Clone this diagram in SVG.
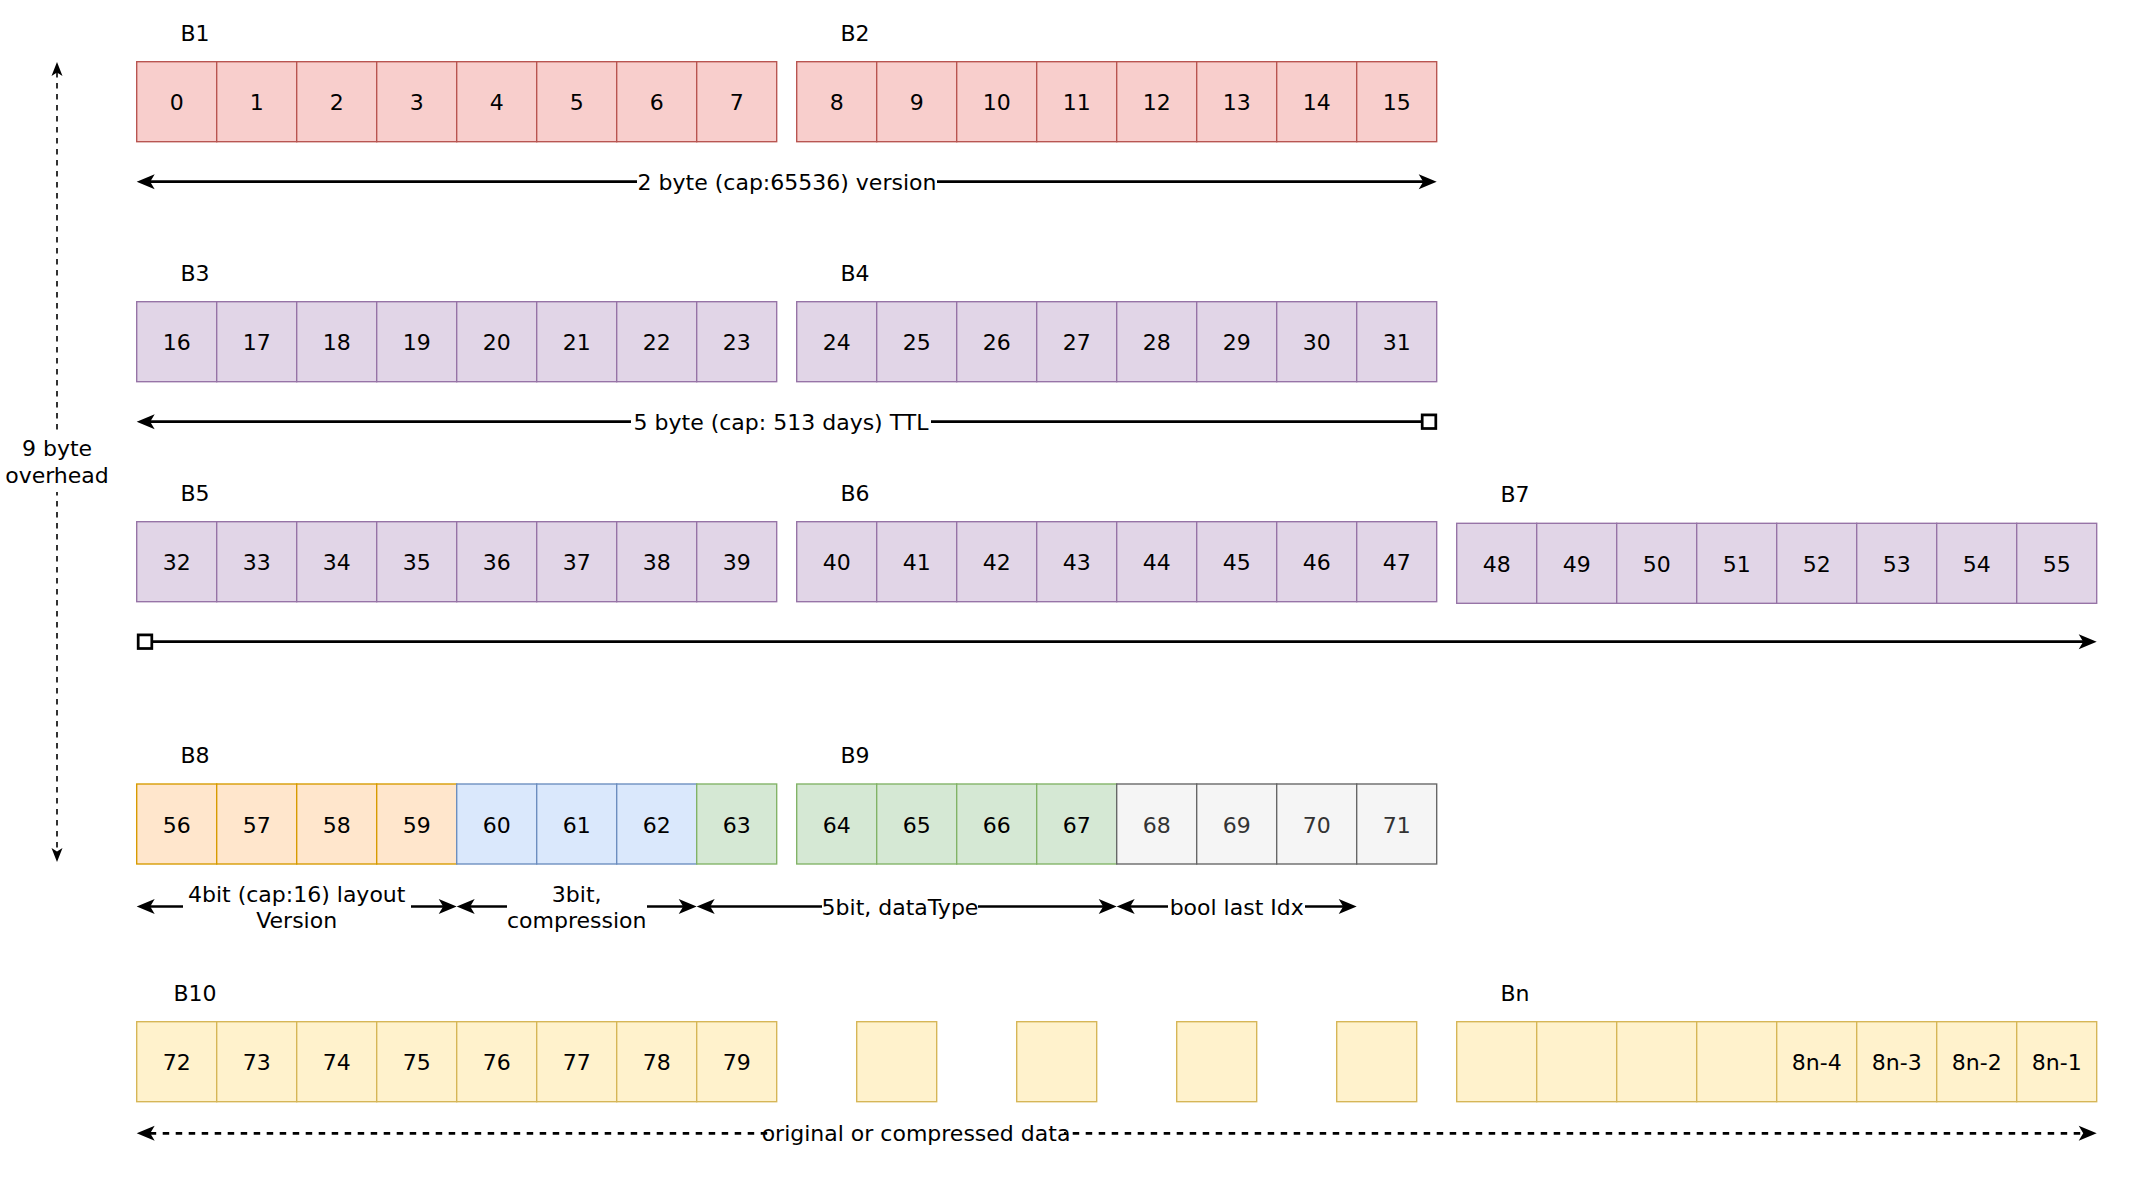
<svg xmlns="http://www.w3.org/2000/svg" width="2148" height="1200" viewBox="0 0 2148 1200">
  <style>
    text { font-family: "DejaVu Sans", Verdana, sans-serif; font-size: 22px; fill: #000; text-anchor: middle; }
    .cell rect { stroke-width: 1.37; }
    .red rect { fill: #f8cecc; stroke: #b85450; }
    .purple rect { fill: #e1d5e7; stroke: #9673a6; }
    rect.orange { fill: #ffe6cc; stroke: #d79b00; }
    rect.blue { fill: #dae8fc; stroke: #6c8ebf; }
    rect.green { fill: #d5e8d4; stroke: #82b366; }
    rect.gray { fill: #f5f5f5; stroke: #666666; }
    text.gray { fill: #333333; }
    .yellow rect, rect.yellow { fill: #fff2cc; stroke: #d6b656; stroke-width: 1.37; }
    .conn { fill: none; stroke: #000; stroke-width: 2.74; }
    .dash { stroke-dasharray: 6.5 6.5; }
    .thin { stroke-width: 1.6; stroke-dasharray: 5.5 5.5; }
    .bg { fill: #fff; }
  </style>
  <defs>
    <marker id="arrow" viewBox="-10 -10 30 20" refX="0" refY="0" markerWidth="30" markerHeight="20" markerUnits="userSpaceOnUse" orient="auto-start-reverse">
      <path d="M13,0 L-5,-7.5 L-0.5,0 L-5,7.5 Z" fill="#000"/>
    </marker>
    <marker id="arrowSm" viewBox="-10 -10 30 20" refX="0" refY="0" markerWidth="30" markerHeight="20" markerUnits="userSpaceOnUse" orient="auto-start-reverse">
      <path d="M10,0 L-4,-5.5 L-0.5,0 L-4,5.5 Z" fill="#000"/>
    </marker>
    <marker id="square" viewBox="-10 -10 20 20" refX="0" refY="0" markerWidth="20" markerHeight="20" markerUnits="userSpaceOnUse" orient="auto">
      <rect x="-6.8" y="-6.8" width="13.6" height="13.6" fill="#fff" stroke="#000" stroke-width="2.74"/>
    </marker>
  </defs>

  <rect width="2148" height="1200" fill="#fff"/>

  <!-- connectors -->
  <g id="connectors">
    <!-- 9 byte overhead -->
    <path class="conn thin" d="M57,72 V852" marker-start="url(#arrowSm)" marker-end="url(#arrowSm)"/>
    <rect class="bg" x="5" y="432" width="104" height="60"/>
    <text x="57" y="455.5">9 byte</text>
    <text x="57" y="483">overhead</text>

    <!-- version -->
    <path class="conn" d="M149.7,181.7 H1423.7" marker-start="url(#arrow)" marker-end="url(#arrow)"/>
    <rect class="bg" x="637" y="168" width="300" height="27"/>
    <text x="787" y="189.7">2 byte (cap:65536) version</text>

    <!-- TTL -->
    <path class="conn" d="M149.7,421.7 H1429" marker-start="url(#arrow)" marker-end="url(#square)"/>
    <rect class="bg" x="631" y="408" width="300" height="27"/>
    <text x="781" y="429.7">5 byte (cap: 513 days) TTL</text>

    <path class="conn" d="M145,641.7 H2083.7" marker-start="url(#square)" marker-end="url(#arrow)"/>

    <!-- B8 / B9 fields -->
    <path class="conn" d="M149.7,906.5 H443.7" marker-start="url(#arrow)" marker-end="url(#arrow)"/>
    <rect class="bg" x="183" y="880" width="228" height="54"/>
    <text x="296.7" y="902">4bit (cap:16) layout</text>
    <text x="296.7" y="928">Version</text>

    <path class="conn" d="M469.7,906.5 H683.7" marker-start="url(#arrow)" marker-end="url(#arrow)"/>
    <rect class="bg" x="507" y="880" width="140" height="54"/>
    <text x="576.7" y="902">3bit,</text>
    <text x="576.7" y="928">compression</text>

    <path class="conn" d="M709.7,906.5 H1103.7" marker-start="url(#arrow)" marker-end="url(#arrow)"/>
    <rect class="bg" x="822" y="893" width="156" height="27"/>
    <text x="900" y="915">5bit, dataType</text>

    <path class="conn" d="M1129.7,906.5 H1343.7" marker-start="url(#arrow)" marker-end="url(#arrow)"/>
    <rect class="bg" x="1168" y="893" width="137" height="27"/>
    <text x="1236.7" y="915">bool last Idx</text>

    <!-- payload -->
    <path class="conn dash" d="M149.7,1133.3 H2083.7" marker-start="url(#arrow)" marker-end="url(#arrow)"/>
    <rect class="bg" x="768" y="1120" width="296" height="27"/>
    <text x="916" y="1141.3">original or compressed data</text>
  </g>

  <!-- B1 -->
  <g id="B1" class="cell red" transform="translate(136.7,61.7)">
    <text x="58.3" y="-21">B1</text>
    <rect x="0" y="0" width="80" height="80"/><rect x="80" y="0" width="80" height="80"/><rect x="160" y="0" width="80" height="80"/><rect x="240" y="0" width="80" height="80"/>
    <rect x="320" y="0" width="80" height="80"/><rect x="400" y="0" width="80" height="80"/><rect x="480" y="0" width="80" height="80"/><rect x="560" y="0" width="80" height="80"/>
    <text x="40" y="48.5">0</text><text x="120" y="48.5">1</text><text x="200" y="48.5">2</text><text x="280" y="48.5">3</text>
    <text x="360" y="48.5">4</text><text x="440" y="48.5">5</text><text x="520" y="48.5">6</text><text x="600" y="48.5">7</text>
  </g>

  <!-- B2 -->
  <g id="B2" class="cell red" transform="translate(796.7,61.7)">
    <text x="58.3" y="-21">B2</text>
    <rect x="0" y="0" width="80" height="80"/><rect x="80" y="0" width="80" height="80"/><rect x="160" y="0" width="80" height="80"/><rect x="240" y="0" width="80" height="80"/>
    <rect x="320" y="0" width="80" height="80"/><rect x="400" y="0" width="80" height="80"/><rect x="480" y="0" width="80" height="80"/><rect x="560" y="0" width="80" height="80"/>
    <text x="40" y="48.5">8</text><text x="120" y="48.5">9</text><text x="200" y="48.5">10</text><text x="280" y="48.5">11</text>
    <text x="360" y="48.5">12</text><text x="440" y="48.5">13</text><text x="520" y="48.5">14</text><text x="600" y="48.5">15</text>
  </g>

  <!-- B3 -->
  <g id="B3" class="cell purple" transform="translate(136.7,301.7)">
    <text x="58.3" y="-21">B3</text>
    <rect x="0" y="0" width="80" height="80"/><rect x="80" y="0" width="80" height="80"/><rect x="160" y="0" width="80" height="80"/><rect x="240" y="0" width="80" height="80"/>
    <rect x="320" y="0" width="80" height="80"/><rect x="400" y="0" width="80" height="80"/><rect x="480" y="0" width="80" height="80"/><rect x="560" y="0" width="80" height="80"/>
    <text x="40" y="48.5">16</text><text x="120" y="48.5">17</text><text x="200" y="48.5">18</text><text x="280" y="48.5">19</text>
    <text x="360" y="48.5">20</text><text x="440" y="48.5">21</text><text x="520" y="48.5">22</text><text x="600" y="48.5">23</text>
  </g>

  <!-- B4 -->
  <g id="B4" class="cell purple" transform="translate(796.7,301.7)">
    <text x="58.3" y="-21">B4</text>
    <rect x="0" y="0" width="80" height="80"/><rect x="80" y="0" width="80" height="80"/><rect x="160" y="0" width="80" height="80"/><rect x="240" y="0" width="80" height="80"/>
    <rect x="320" y="0" width="80" height="80"/><rect x="400" y="0" width="80" height="80"/><rect x="480" y="0" width="80" height="80"/><rect x="560" y="0" width="80" height="80"/>
    <text x="40" y="48.5">24</text><text x="120" y="48.5">25</text><text x="200" y="48.5">26</text><text x="280" y="48.5">27</text>
    <text x="360" y="48.5">28</text><text x="440" y="48.5">29</text><text x="520" y="48.5">30</text><text x="600" y="48.5">31</text>
  </g>

  <!-- B5 -->
  <g id="B5" class="cell purple" transform="translate(136.7,521.7)">
    <text x="58.3" y="-21">B5</text>
    <rect x="0" y="0" width="80" height="80"/><rect x="80" y="0" width="80" height="80"/><rect x="160" y="0" width="80" height="80"/><rect x="240" y="0" width="80" height="80"/>
    <rect x="320" y="0" width="80" height="80"/><rect x="400" y="0" width="80" height="80"/><rect x="480" y="0" width="80" height="80"/><rect x="560" y="0" width="80" height="80"/>
    <text x="40" y="48.5">32</text><text x="120" y="48.5">33</text><text x="200" y="48.5">34</text><text x="280" y="48.5">35</text>
    <text x="360" y="48.5">36</text><text x="440" y="48.5">37</text><text x="520" y="48.5">38</text><text x="600" y="48.5">39</text>
  </g>

  <!-- B6 -->
  <g id="B6" class="cell purple" transform="translate(796.7,521.7)">
    <text x="58.3" y="-21">B6</text>
    <rect x="0" y="0" width="80" height="80"/><rect x="80" y="0" width="80" height="80"/><rect x="160" y="0" width="80" height="80"/><rect x="240" y="0" width="80" height="80"/>
    <rect x="320" y="0" width="80" height="80"/><rect x="400" y="0" width="80" height="80"/><rect x="480" y="0" width="80" height="80"/><rect x="560" y="0" width="80" height="80"/>
    <text x="40" y="48.5">40</text><text x="120" y="48.5">41</text><text x="200" y="48.5">42</text><text x="280" y="48.5">43</text>
    <text x="360" y="48.5">44</text><text x="440" y="48.5">45</text><text x="520" y="48.5">46</text><text x="600" y="48.5">47</text>
  </g>

  <!-- B7 -->
  <g id="B7" class="cell purple" transform="translate(1456.7,523.3)">
    <text x="58.3" y="-21">B7</text>
    <rect x="0" y="0" width="80" height="80"/><rect x="80" y="0" width="80" height="80"/><rect x="160" y="0" width="80" height="80"/><rect x="240" y="0" width="80" height="80"/>
    <rect x="320" y="0" width="80" height="80"/><rect x="400" y="0" width="80" height="80"/><rect x="480" y="0" width="80" height="80"/><rect x="560" y="0" width="80" height="80"/>
    <text x="40" y="48.5">48</text><text x="120" y="48.5">49</text><text x="200" y="48.5">50</text><text x="280" y="48.5">51</text>
    <text x="360" y="48.5">52</text><text x="440" y="48.5">53</text><text x="520" y="48.5">54</text><text x="600" y="48.5">55</text>
  </g>

  <!-- B8: layout version / compression / data type (high bit) -->
  <g id="B8" class="cell" transform="translate(136.7,784)">
    <text x="58.3" y="-21">B8</text>
    <rect class="orange" x="0" y="0" width="80" height="80"/><rect class="orange" x="80" y="0" width="80" height="80"/><rect class="orange" x="160" y="0" width="80" height="80"/><rect class="orange" x="240" y="0" width="80" height="80"/>
    <rect class="blue" x="320" y="0" width="80" height="80"/><rect class="blue" x="400" y="0" width="80" height="80"/><rect class="blue" x="480" y="0" width="80" height="80"/>
    <rect class="green" x="560" y="0" width="80" height="80"/>
    <text x="40" y="48.5">56</text><text x="120" y="48.5">57</text><text x="200" y="48.5">58</text><text x="280" y="48.5">59</text>
    <text x="360" y="48.5">60</text><text x="440" y="48.5">61</text><text x="520" y="48.5">62</text><text x="600" y="48.5">63</text>
  </g>

  <!-- B9: data type / flags -->
  <g id="B9" class="cell" transform="translate(796.7,784)">
    <text x="58.3" y="-21">B9</text>
    <rect class="green" x="0" y="0" width="80" height="80"/><rect class="green" x="80" y="0" width="80" height="80"/><rect class="green" x="160" y="0" width="80" height="80"/><rect class="green" x="240" y="0" width="80" height="80"/>
    <rect class="gray" x="320" y="0" width="80" height="80"/><rect class="gray" x="400" y="0" width="80" height="80"/><rect class="gray" x="480" y="0" width="80" height="80"/><rect class="gray" x="560" y="0" width="80" height="80"/>
    <text x="40" y="48.5">64</text><text x="120" y="48.5">65</text><text x="200" y="48.5">66</text><text x="280" y="48.5">67</text>
    <text class="gray" x="360" y="48.5">68</text><text class="gray" x="440" y="48.5">69</text><text class="gray" x="520" y="48.5">70</text><text class="gray" x="600" y="48.5">71</text>
  </g>

  <!-- B10 -->
  <g id="B10" class="cell yellow" transform="translate(136.7,1021.7)">
    <text x="58.3" y="-21">B10</text>
    <rect x="0" y="0" width="80" height="80"/><rect x="80" y="0" width="80" height="80"/><rect x="160" y="0" width="80" height="80"/><rect x="240" y="0" width="80" height="80"/>
    <rect x="320" y="0" width="80" height="80"/><rect x="400" y="0" width="80" height="80"/><rect x="480" y="0" width="80" height="80"/><rect x="560" y="0" width="80" height="80"/>
    <text x="40" y="48.5">72</text><text x="120" y="48.5">73</text><text x="200" y="48.5">74</text><text x="280" y="48.5">75</text>
    <text x="360" y="48.5">76</text><text x="440" y="48.5">77</text><text x="520" y="48.5">78</text><text x="600" y="48.5">79</text>
  </g>

  <!-- elided payload bytes -->
  <g id="gap1"><rect class="yellow" x="856.7" y="1021.7" width="80" height="80"/></g>
  <g id="gap2"><rect class="yellow" x="1016.7" y="1021.7" width="80" height="80"/></g>
  <g id="gap3"><rect class="yellow" x="1176.7" y="1021.7" width="80" height="80"/></g>
  <g id="gap4"><rect class="yellow" x="1336.7" y="1021.7" width="80" height="80"/></g>

  <!-- Bn -->
  <g id="Bn" class="cell yellow" transform="translate(1456.7,1021.7)">
    <text x="58.3" y="-21">Bn</text>
    <rect x="0" y="0" width="80" height="80"/><rect x="80" y="0" width="80" height="80"/><rect x="160" y="0" width="80" height="80"/><rect x="240" y="0" width="80" height="80"/>
    <rect x="320" y="0" width="80" height="80"/><rect x="400" y="0" width="80" height="80"/><rect x="480" y="0" width="80" height="80"/><rect x="560" y="0" width="80" height="80"/>
    <text x="360" y="48.5">8n-4</text><text x="440" y="48.5">8n-3</text><text x="520" y="48.5">8n-2</text><text x="600" y="48.5">8n-1</text>
  </g>
</svg>
